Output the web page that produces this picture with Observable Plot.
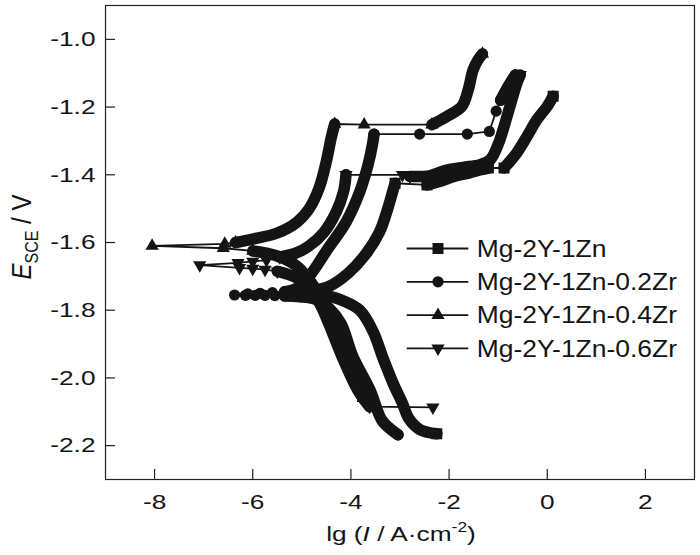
<!DOCTYPE html>
<html><head><meta charset="utf-8">
<script src="https://cdn.jsdelivr.net/npm/d3@7"></script>
<script src="https://cdn.jsdelivr.net/npm/@observablehq/plot@0.6"></script>
<style>body{margin:0;background:#fff}#chart svg{display:block}</style>
</head><body><div id="chart"></div>
<script>
// ---- data: [lg I, E, flag]  flag: 1 = dense band, 2 = dense band starting after a jump, 0 = separate marker ----
const seriesNames = ["Mg-2Y-1Zn", "Mg-2Y-1Zn-0.2Zr", "Mg-2Y-1Zn-0.4Zr", "Mg-2Y-1Zn-0.6Zr"];
const seriesSymbols = ["square", "circle", "triangle", "triangle-down"];

const mg2y1zn = [
  [-2.25,-2.165,1],[-2.6,-2.152,1],[-2.82,-2.12,1],[-2.95,-2.075,1],[-3.14,-2.016,1],[-3.35,-1.94,1],
  [-3.55,-1.862,1],[-3.82,-1.80,1],[-4.16,-1.772,1],[-4.5,-1.757,1],[-4.9,-1.748,1],
  [-4.45,-1.73,1],[-4.05,-1.69,1],[-3.7,-1.635,1],[-3.42,-1.57,1],[-3.25,-1.50,1],[-3.15,-1.45,1],[-3.1,-1.425,1],
  [-2.45,-1.43,2],[-2.2,-1.42,1],[-1.9,-1.405,1],[-1.6,-1.395,1],[-1.35,-1.385,1],[-1.2,-1.38,1],
  [-0.88,-1.38,2],[-0.62,-1.335,1],[-0.41,-1.286,1],[-0.21,-1.237,1],[0.0,-1.198,1],[0.12,-1.168,1]
];
const mg2y1zn02zr = [
  [-3.04,-2.168,1],[-3.16,-2.155,1],[-3.37,-2.125,1],[-3.61,-2.036,1],[-3.96,-1.937,1],[-4.2,-1.84,1],
  [-4.43,-1.796,1],[-4.73,-1.767,1],[-5.05,-1.76,1],[-5.35,-1.758,1],
  [-5.55,-1.757,0],[-5.75,-1.756,0],[-5.95,-1.756,0],[-6.15,-1.756,0],[-6.37,-1.755,0],
  [-6.1,-1.752,0],[-5.85,-1.75,0],[-5.6,-1.748,0],
  [-5.35,-1.745,1],[-5.1,-1.735,1],[-4.85,-1.70,1],[-4.5,-1.625,1],[-4.1,-1.54,1],[-3.82,-1.45,1],
  [-3.65,-1.37,1],[-3.56,-1.31,1],[-3.53,-1.28,1],
  [-2.6,-1.28,0],[-1.63,-1.28,0],[-1.18,-1.272,0],[-1.04,-1.212,0],
  [-0.95,-1.18,1],[-0.8,-1.14,1],[-0.65,-1.105,1]
];
const mg2y1zn04zr = [
  [-3.75,-2.06,1],[-3.95,-2.0,1],[-4.15,-1.93,1],[-4.35,-1.85,1],[-4.55,-1.78,1],[-4.8,-1.72,1],
  [-5.1,-1.67,1],[-5.5,-1.64,1],[-6.0,-1.625,1],
  [-6.6,-1.617,0],[-8.05,-1.61,0],[-6.57,-1.604,0],
  [-6.35,-1.60,1],[-6.0,-1.59,1],[-5.5,-1.572,1],[-5.1,-1.54,1],[-4.85,-1.50,1],[-4.65,-1.44,1],
  [-4.5,-1.36,1],[-4.4,-1.29,1],[-4.33,-1.25,1],
  [-3.73,-1.252,0],
  [-2.35,-1.252,1],[-2.05,-1.228,1],[-1.74,-1.198,1],[-1.61,-1.149,1],[-1.51,-1.09,1],[-1.4,-1.058,1],[-1.32,-1.043,1]
];
const mg2y1zn06zr = [
  [-2.33,-2.087,0],
  [-3.62,-2.085,1],[-3.86,-2.036,1],[-4.18,-1.937,1],[-4.45,-1.84,1],[-4.6,-1.79,1],[-4.8,-1.74,1],
  [-5.1,-1.705,1],[-5.5,-1.685,1],
  [-5.75,-1.68,0],[-6.0,-1.677,0],[-6.27,-1.675,0],[-7.08,-1.667,0],[-6.3,-1.66,0],[-6.0,-1.656,0],[-5.72,-1.652,0],
  [-5.45,-1.643,1],[-5.1,-1.63,1],[-4.85,-1.61,1],[-4.55,-1.57,1],[-4.3,-1.51,1],[-4.15,-1.45,1],[-4.1,-1.40,1],
  [-2.95,-1.40,0],
  [-2.8,-1.405,1],[-2.4,-1.403,1],[-2.05,-1.386,1],[-1.71,-1.378,1],[-1.37,-1.37,1],[-1.16,-1.355,1],
  [-1.0,-1.31,1],[-0.9,-1.267,1],[-0.76,-1.198,1],[-0.62,-1.13,1],[-0.55,-1.105,1]
];
const seriesData = [mg2y1zn, mg2y1zn02zr, mg2y1zn04zr, mg2y1zn06zr];

const xTicks = [-8, -6, -4, -2, 0, 2];
const yTicks = [-2.2, -2.0, -1.8, -1.6, -1.4, -1.2, -1.0];

// ---- build tables ----
const all = [], bands = [], dots = [];
seriesData.forEach((arr, s) => {
  let run = 0;
  arr.forEach((p, i) => {
    const row = {s, i, x: p[0], y: p[1], b: p[2]};
    all.push(row);
    const prev = i > 0 ? arr[i-1][2] : 0;
    const next = i < arr.length - 1 ? arr[i+1][2] : 0;
    const inBand = p[2] > 0;
    const isStart = inBand && (prev === 0 || p[2] === 2);
    const isEnd = inBand && (next === 0 || next === 2);
    if (isStart) run++;
    if (inBand) bands.push({...row, run: s + "-" + run});
    if (!inBand || isStart || isEnd) dots.push(row);
  });
});

const ink = "#141414";
const symR = {square: 6.2, circle: 5.6, triangle: 4.9, "triangle-down": 4.9};

const marks = [
  Plot.frame({stroke: "#222", strokeWidth: 1.2}),
  Plot.tickX(xTicks, {x: d => d, insetTop: 464, stroke: "#222", strokeWidth: 1.2}),
  Plot.tickY(yTicks, {y: d => d, insetRight: 579, stroke: "#222", strokeWidth: 1.2}),
  Plot.axisX(xTicks, {tickSize: 0, tickPadding: 15, tickFormat: d => String(d), fill: ink}),
  Plot.axisY(yTicks, {tickSize: 0, tickPadding: 10, tickFormat: d => d.toFixed(1), fill: ink}),
  Plot.line(all, {x: "x", y: "y", z: "s", stroke: ink, strokeWidth: 1.8}),
  Plot.line(bands, {x: "x", y: "y", z: "run", stroke: ink, strokeWidth: 11.5, strokeLinecap: "round", strokeLinejoin: "round", curve: "catmull-rom"})
];
seriesSymbols.forEach((sym, s) => {
  marks.push(Plot.dot(dots.filter(d => d.s === s), {
    x: "x", y: "y", symbol: sym === "triangle-down" ? "triangle" : sym,
    rotate: sym === "triangle-down" ? 180 : 0, r: symR[sym], fill: ink, stroke: "none"
  }));
});

const plot = Plot.plot({
  width: 700, height: 555,
  marginLeft: 105, marginRight: 6, marginTop: 5, marginBottom: 76,
  style: {fontFamily: "'Liberation Sans', Arial, sans-serif", fontSize: "21px", color: ink, background: "#fff"},
  x: {domain: [-9, 3], label: null},
  y: {domain: [-2.3, -0.9], label: null},
  marks
});
document.getElementById("chart").appendChild(plot);

// horizontal stretch of tick labels (the reference glyphs are wide)
plot.querySelectorAll('[aria-label="x-axis tick label"] text, [aria-label="y-axis tick label"] text').forEach(el => {
  const t = el.getAttribute("transform");
  if (t) el.setAttribute("transform", t + " scale(1.25,1)");
  else {
    const x = +el.getAttribute("x") || 0, y = +el.getAttribute("y") || 0;
    el.setAttribute("transform", `translate(${x},${y}) scale(1.25,1) translate(${-x},${-y})`);
  }
});

const svg = d3.select(plot);
// x axis label
const xl = svg.append("text").attr("transform", "translate(401,541) scale(1.25,1)")
  .attr("text-anchor", "middle").attr("font-size", 21).attr("fill", ink);
xl.append("tspan").text("lg (");
xl.append("tspan").attr("font-style", "italic").text("I");
xl.append("tspan").text(" / A·cm");
xl.append("tspan").attr("font-size", 14).attr("dy", -9).text("-2");
xl.append("tspan").attr("dy", 9).text(")");
// y axis label
const yl = svg.append("text").attr("transform", "translate(31,237) rotate(-90) scale(1,1.15)")
  .attr("text-anchor", "middle").attr("font-size", 24).attr("fill", ink);
yl.append("tspan").attr("font-style", "italic").text("E");
yl.append("tspan").attr("font-size", 16).attr("dy", 6).text("SCE");
yl.append("tspan").attr("dy", -6).text(" / V");

// legend
const lg = svg.append("g");
seriesNames.forEach((name, s) => {
  const y = 248.5 + s * 33.3;
  const g = lg.append("g").attr("transform", `translate(0,${y})`);
  g.append("line").attr("x1", 406.7).attr("x2", 468.3).attr("stroke", ink).attr("stroke-width", 1.8);
  const sym = seriesSymbols[s];
  const r = symR[sym];
  const type = sym === "square" ? d3.symbolSquare : sym === "circle" ? d3.symbolCircle : d3.symbolTriangle;
  g.append("path").attr("d", d3.symbol(type, Math.PI * r * r)())
    .attr("transform", `translate(438,0)${sym === "triangle-down" ? " rotate(180)" : ""}`).attr("fill", ink);
  g.append("text").attr("transform", "translate(476.7,8.2) scale(1.15,1)")
    .attr("text-anchor", "start").attr("font-size", 23).attr("fill", ink).text(name);
});
</script></body></html>
